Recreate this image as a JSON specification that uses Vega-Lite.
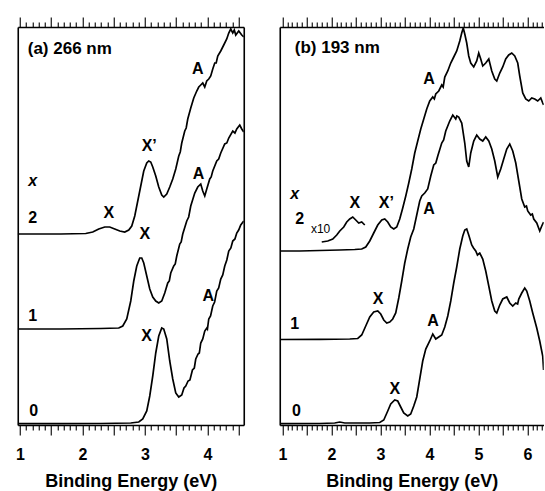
{
"$schema": "https://vega.github.io/schema/vega-lite/v6.json",
"padding": {"left": 14.75, "top": 16, "right": 0, "bottom": 0},
"spacing": 34,
"config": {
  "font": "Liberation Sans",
  "view": {"stroke": null},
  "axis": {"domainColor": "black", "tickColor": "black", "labelColor": "black", "titleColor": "black",
    "labelFont": "Liberation Sans", "titleFont": "Liberation Sans", "labelFontSize": 16, "labelFontWeight": "bold",
    "titleFontSize": 18, "titleFontWeight": "bold", "grid": false, "domainWidth": 1.6, "tickWidth": 1.1,
    "labelOverlap": false, "labelFlush": false}
},
"datasets": {
  "curvesA": [
    {"E":0.965,"I":1.3,"s":"0"},{"E":1.653,"I":1.4,"s":"0"},{"E":2.293,"I":1.5,"s":"0"},{"E":2.773,"I":2,"s":"0"},{"E":2.901,"I":3,"s":"0"},{"E":2.965,"I":6,"s":"0"},{"E":3.029,"I":14,"s":"0"},{"E":3.077,"I":29,"s":"0"},{"E":3.125,"I":49,"s":"0"},{"E":3.173,"I":72,"s":"0"},{"E":3.221,"I":89,"s":"0"},{"E":3.269,"I":97,"s":"0"},{"E":3.301,"I":96,"s":"0"},{"E":3.349,"I":86,"s":"0"},{"E":3.397,"I":64,"s":"0"},{"E":3.445,"I":46,"s":"0"},{"E":3.493,"I":32,"s":"0"},{"E":3.541,"I":28,"s":"0"},{"E":3.589,"I":30,"s":"0"},{"E":3.625,"I":37,"s":"0"},{"E":3.653,"I":39,"s":"0"},{"E":3.69,"I":44,"s":"0"},{"E":3.72,"I":45,"s":"0"},{"E":3.76,"I":55,"s":"0"},{"E":3.79,"I":57,"s":"0"},{"E":3.813,"I":66,"s":"0"},{"E":3.85,"I":71,"s":"0"},{"E":3.87,"I":72,"s":"0"},{"E":3.893,"I":82,"s":"0"},{"E":3.925,"I":86,"s":"0"},{"E":3.957,"I":94,"s":"0"},{"E":3.99,"I":97,"s":"0"},{"E":4.0,"I":96,"s":"0"},{"E":4.021,"I":106,"s":"0"},{"E":4.05,"I":109,"s":"0"},{"E":4.085,"I":119,"s":"0"},{"E":4.115,"I":123,"s":"0"},{"E":4.149,"I":134,"s":"0"},{"E":4.18,"I":137,"s":"0"},{"E":4.213,"I":146,"s":"0"},{"E":4.245,"I":150,"s":"0"},{"E":4.277,"I":159,"s":"0"},{"E":4.31,"I":165,"s":"0"},{"E":4.341,"I":174,"s":"0"},{"E":4.375,"I":177,"s":"0"},{"E":4.405,"I":184,"s":"0"},{"E":4.44,"I":186,"s":"0"},{"E":4.469,"I":192,"s":"0"},{"E":4.5,"I":195,"s":"0"},{"E":4.533,"I":200,"s":"0"},{"E":4.581,"I":204,"s":"0"},
    {"E":0.965,"I":96,"s":"1"},{"E":1.653,"I":96,"s":"1"},{"E":2.293,"I":96.5,"s":"1"},{"E":2.581,"I":97,"s":"1"},{"E":2.645,"I":99,"s":"1"},{"E":2.709,"I":106,"s":"1"},{"E":2.773,"I":124,"s":"1"},{"E":2.821,"I":144,"s":"1"},{"E":2.869,"I":159,"s":"1"},{"E":2.917,"I":167,"s":"1"},{"E":2.949,"I":167,"s":"1"},{"E":2.981,"I":162,"s":"1"},{"E":3.029,"I":149,"s":"1"},{"E":3.077,"I":136,"s":"1"},{"E":3.125,"I":128,"s":"1"},{"E":3.173,"I":124,"s":"1"},{"E":3.221,"I":122,"s":"1"},{"E":3.269,"I":124,"s":"1"},{"E":3.317,"I":132,"s":"1"},{"E":3.365,"I":142,"s":"1"},{"E":3.39,"I":144,"s":"1"},{"E":3.413,"I":152,"s":"1"},{"E":3.461,"I":159,"s":"1"},{"E":3.485,"I":161,"s":"1"},{"E":3.509,"I":169,"s":"1"},{"E":3.557,"I":181,"s":"1"},{"E":3.58,"I":183,"s":"1"},{"E":3.605,"I":191,"s":"1"},{"E":3.669,"I":204,"s":"1"},{"E":3.7,"I":208,"s":"1"},{"E":3.733,"I":219,"s":"1"},{"E":3.797,"I":232,"s":"1"},{"E":3.845,"I":238,"s":"1"},{"E":3.893,"I":241,"s":"1"},{"E":3.925,"I":234,"s":"1"},{"E":3.957,"I":229,"s":"1"},{"E":3.989,"I":236,"s":"1"},{"E":4.037,"I":246,"s":"1"},{"E":4.06,"I":248,"s":"1"},{"E":4.085,"I":254,"s":"1"},{"E":4.149,"I":264,"s":"1"},{"E":4.18,"I":266,"s":"1"},{"E":4.213,"I":272,"s":"1"},{"E":4.277,"I":281,"s":"1"},{"E":4.31,"I":282,"s":"1"},{"E":4.341,"I":287,"s":"1"},{"E":4.405,"I":294,"s":"1"},{"E":4.44,"I":292,"s":"1"},{"E":4.469,"I":296,"s":"1"},{"E":4.517,"I":300,"s":"1"},{"E":4.549,"I":296,"s":"1"},{"E":4.581,"I":293,"s":"1"},
    {"E":0.965,"I":191,"s":"2"},{"E":1.653,"I":191,"s":"2"},{"E":2.053,"I":191.5,"s":"2"},{"E":2.165,"I":193,"s":"2"},{"E":2.261,"I":196,"s":"2"},{"E":2.357,"I":198,"s":"2"},{"E":2.437,"I":198,"s":"2"},{"E":2.517,"I":196,"s":"2"},{"E":2.597,"I":194,"s":"2"},{"E":2.677,"I":193,"s":"2"},{"E":2.741,"I":195,"s":"2"},{"E":2.789,"I":199,"s":"2"},{"E":2.837,"I":209,"s":"2"},{"E":2.885,"I":224,"s":"2"},{"E":2.933,"I":239,"s":"2"},{"E":2.981,"I":254,"s":"2"},{"E":3.029,"I":262,"s":"2"},{"E":3.061,"I":264,"s":"2"},{"E":3.093,"I":263,"s":"2"},{"E":3.125,"I":258,"s":"2"},{"E":3.173,"I":249,"s":"2"},{"E":3.221,"I":238,"s":"2"},{"E":3.269,"I":230,"s":"2"},{"E":3.301,"I":228,"s":"2"},{"E":3.349,"I":231,"s":"2"},{"E":3.397,"I":238,"s":"2"},{"E":3.445,"I":246,"s":"2"},{"E":3.493,"I":256,"s":"2"},{"E":3.541,"I":269,"s":"2"},{"E":3.565,"I":273,"s":"2"},{"E":3.589,"I":282,"s":"2"},{"E":3.637,"I":294,"s":"2"},{"E":3.66,"I":297,"s":"2"},{"E":3.685,"I":306,"s":"2"},{"E":3.733,"I":317,"s":"2"},{"E":3.781,"I":327,"s":"2"},{"E":3.829,"I":334,"s":"2"},{"E":3.861,"I":338,"s":"2"},{"E":3.893,"I":340,"s":"2"},{"E":3.925,"I":342,"s":"2"},{"E":3.957,"I":338,"s":"2"},{"E":3.989,"I":344,"s":"2"},{"E":4.021,"I":346,"s":"2"},{"E":4.053,"I":349,"s":"2"},{"E":4.085,"I":356,"s":"2"},{"E":4.117,"I":362,"s":"2"},{"E":4.14,"I":362,"s":"2"},{"E":4.165,"I":369,"s":"2"},{"E":4.213,"I":374,"s":"2"},{"E":4.261,"I":380,"s":"2"},{"E":4.309,"I":386,"s":"2"},{"E":4.341,"I":392,"s":"2"},{"E":4.373,"I":396,"s":"2"},{"E":4.405,"I":392,"s":"2"},{"E":4.43,"I":395,"s":"2"},{"E":4.453,"I":390,"s":"2"},{"E":4.501,"I":394,"s":"2"},{"E":4.549,"I":390,"s":"2"},{"E":4.581,"I":388,"s":"2"}
  ],
  "peaksA": [
    {"E":2.421,"I":212,"label":"X"},{"E":3.069,"I":279,"label":"X’"},{"E":3.845,"I":356,"label":"A"},
    {"E":2.997,"I":191,"label":"X"},{"E":3.856,"I":251,"label":"A"},
    {"E":3.026,"I":89,"label":"X"},{"E":4.013,"I":129,"label":"A"}
  ],
  "seriesA": [
    {"E":1.205,"I":207,"label":"2"},{"E":1.205,"I":109,"label":"1"},{"E":1.221,"I":14,"label":"0"}
  ],
  "titleA": [{"E":1.125,"I":376,"label":"(a) 266 nm"}],
  "varA": [{"E":1.205,"I":244,"label":"x"}],
  "curvesB": [
    {"E":0.965,"I":1.3,"s":"0"},{"E":1.761,"I":1.5,"s":"0"},{"E":2.067,"I":2,"s":"0"},{"E":2.17,"I":3,"s":"0"},{"E":2.272,"I":2,"s":"0"},{"E":2.782,"I":2,"s":"0"},{"E":2.986,"I":2.5,"s":"0"},{"E":3.068,"I":5,"s":"0"},{"E":3.149,"I":14,"s":"0"},{"E":3.21,"I":21,"s":"0"},{"E":3.292,"I":25,"s":"0"},{"E":3.353,"I":24,"s":"0"},{"E":3.414,"I":18,"s":"0"},{"E":3.475,"I":12,"s":"0"},{"E":3.557,"I":9,"s":"0"},{"E":3.618,"I":11,"s":"0"},{"E":3.68,"I":19,"s":"0"},{"E":3.741,"I":28,"s":"0"},{"E":3.802,"I":46,"s":"0"},{"E":3.863,"I":64,"s":"0"},{"E":3.925,"I":76,"s":"0"},{"E":4.006,"I":84,"s":"0"},{"E":4.068,"I":91,"s":"0"},{"E":4.129,"I":86,"s":"0"},{"E":4.19,"I":88,"s":"0"},{"E":4.251,"I":90,"s":"0"},{"E":4.313,"I":98,"s":"0"},{"E":4.374,"I":109,"s":"0"},{"E":4.435,"I":124,"s":"0"},{"E":4.496,"I":142,"s":"0"},{"E":4.557,"I":158,"s":"0"},{"E":4.619,"I":176,"s":"0"},{"E":4.68,"I":189,"s":"0"},{"E":4.721,"I":195,"s":"0"},{"E":4.761,"I":196,"s":"0"},{"E":4.802,"I":190,"s":"0"},{"E":4.863,"I":180,"s":"0"},{"E":4.9,"I":177,"s":"0"},{"E":4.945,"I":174,"s":"0"},{"E":4.98,"I":170,"s":"0"},{"E":5.027,"I":172,"s":"0"},{"E":5.088,"I":166,"s":"0"},{"E":5.149,"I":154,"s":"0"},{"E":5.211,"I":139,"s":"0"},{"E":5.272,"I":124,"s":"0"},{"E":5.333,"I":114,"s":"0"},{"E":5.374,"I":112,"s":"0"},{"E":5.435,"I":120,"s":"0"},{"E":5.496,"I":126,"s":"0"},{"E":5.578,"I":128,"s":"0"},{"E":5.639,"I":122,"s":"0"},{"E":5.7,"I":119,"s":"0"},{"E":5.762,"I":122,"s":"0"},{"E":5.8,"I":121,"s":"0"},{"E":5.823,"I":126,"s":"0"},{"E":5.884,"I":132,"s":"0"},{"E":5.945,"I":137,"s":"0"},{"E":5.986,"I":134,"s":"0"},{"E":6.047,"I":124,"s":"0"},{"E":6.108,"I":112,"s":"0"},{"E":6.19,"I":97,"s":"0"},{"E":6.251,"I":84,"s":"0"},{"E":6.312,"I":69,"s":"0"},{"E":6.33,"I":55,"s":"0"},
    {"E":0.965,"I":85.5,"s":"1"},{"E":1.761,"I":85.7,"s":"1"},{"E":2.374,"I":86,"s":"1"},{"E":2.537,"I":86.5,"s":"1"},{"E":2.618,"I":90,"s":"1"},{"E":2.7,"I":99,"s":"1"},{"E":2.782,"I":108,"s":"1"},{"E":2.863,"I":113,"s":"1"},{"E":2.945,"I":114,"s":"1"},{"E":3.006,"I":111,"s":"1"},{"E":3.068,"I":105,"s":"1"},{"E":3.129,"I":102,"s":"1"},{"E":3.19,"I":103,"s":"1"},{"E":3.251,"I":106,"s":"1"},{"E":3.312,"I":112,"s":"1"},{"E":3.374,"I":127,"s":"1"},{"E":3.435,"I":144,"s":"1"},{"E":3.496,"I":162,"s":"1"},{"E":3.557,"I":176,"s":"1"},{"E":3.618,"I":188,"s":"1"},{"E":3.68,"I":196,"s":"1"},{"E":3.741,"I":210,"s":"1"},{"E":3.802,"I":224,"s":"1"},{"E":3.843,"I":229,"s":"1"},{"E":3.904,"I":232,"s":"1"},{"E":3.965,"I":236,"s":"1"},{"E":4.027,"I":249,"s":"1"},{"E":4.088,"I":260,"s":"1"},{"E":4.13,"I":262,"s":"1"},{"E":4.17,"I":269,"s":"1"},{"E":4.251,"I":282,"s":"1"},{"E":4.29,"I":285,"s":"1"},{"E":4.333,"I":294,"s":"1"},{"E":4.414,"I":304,"s":"1"},{"E":4.476,"I":310,"s":"1"},{"E":4.537,"I":306,"s":"1"},{"E":4.56,"I":309,"s":"1"},{"E":4.598,"I":308,"s":"1"},{"E":4.659,"I":302,"s":"1"},{"E":4.721,"I":282,"s":"1"},{"E":4.761,"I":264,"s":"1"},{"E":4.802,"I":258,"s":"1"},{"E":4.843,"I":272,"s":"1"},{"E":4.904,"I":284,"s":"1"},{"E":4.965,"I":290,"s":"1"},{"E":5.027,"I":286,"s":"1"},{"E":5.088,"I":284,"s":"1"},{"E":5.149,"I":288,"s":"1"},{"E":5.211,"I":284,"s":"1"},{"E":5.272,"I":276,"s":"1"},{"E":5.333,"I":264,"s":"1"},{"E":5.394,"I":248,"s":"1"},{"E":5.455,"I":256,"s":"1"},{"E":5.516,"I":266,"s":"1"},{"E":5.578,"I":276,"s":"1"},{"E":5.639,"I":281,"s":"1"},{"E":5.7,"I":274,"s":"1"},{"E":5.762,"I":262,"s":"1"},{"E":5.823,"I":244,"s":"1"},{"E":5.884,"I":226,"s":"1"},{"E":5.945,"I":218,"s":"1"},{"E":5.98,"I":219,"s":"1"},{"E":6.006,"I":214,"s":"1"},{"E":6.067,"I":210,"s":"1"},{"E":6.1,"I":211,"s":"1"},{"E":6.129,"I":206,"s":"1"},{"E":6.19,"I":202,"s":"1"},{"E":6.251,"I":194,"s":"1"},{"E":6.292,"I":199,"s":"1"},{"E":6.33,"I":203,"s":"1"},
    {"E":0.965,"I":174,"s":"2"},{"E":1.353,"I":174,"s":"2"},{"E":1.761,"I":174.5,"s":"2"},{"E":2.17,"I":175,"s":"2"},{"E":2.476,"I":175.5,"s":"2"},{"E":2.618,"I":176,"s":"2"},{"E":2.7,"I":178,"s":"2"},{"E":2.782,"I":184,"s":"2"},{"E":2.863,"I":192,"s":"2"},{"E":2.945,"I":200,"s":"2"},{"E":3.027,"I":205,"s":"2"},{"E":3.088,"I":206,"s":"2"},{"E":3.149,"I":203,"s":"2"},{"E":3.21,"I":198,"s":"2"},{"E":3.272,"I":196,"s":"2"},{"E":3.333,"I":198,"s":"2"},{"E":3.394,"I":206,"s":"2"},{"E":3.455,"I":217,"s":"2"},{"E":3.517,"I":229,"s":"2"},{"E":3.578,"I":242,"s":"2"},{"E":3.639,"I":256,"s":"2"},{"E":3.7,"I":272,"s":"2"},{"E":3.761,"I":284,"s":"2"},{"E":3.823,"I":296,"s":"2"},{"E":3.884,"I":306,"s":"2"},{"E":3.945,"I":316,"s":"2"},{"E":4.006,"I":324,"s":"2"},{"E":4.068,"I":328,"s":"2"},{"E":4.1,"I":326,"s":"2"},{"E":4.129,"I":331,"s":"2"},{"E":4.19,"I":334,"s":"2"},{"E":4.251,"I":340,"s":"2"},{"E":4.28,"I":338,"s":"2"},{"E":4.313,"I":348,"s":"2"},{"E":4.374,"I":354,"s":"2"},{"E":4.435,"I":362,"s":"2"},{"E":4.496,"I":368,"s":"2"},{"E":4.557,"I":374,"s":"2"},{"E":4.619,"I":384,"s":"2"},{"E":4.659,"I":392,"s":"2"},{"E":4.69,"I":397,"s":"2"},{"E":4.721,"I":391,"s":"2"},{"E":4.761,"I":382,"s":"2"},{"E":4.802,"I":369,"s":"2"},{"E":4.843,"I":362,"s":"2"},{"E":4.904,"I":358,"s":"2"},{"E":4.965,"I":364,"s":"2"},{"E":5.006,"I":372,"s":"2"},{"E":5.047,"I":366,"s":"2"},{"E":5.088,"I":359,"s":"2"},{"E":5.149,"I":362,"s":"2"},{"E":5.211,"I":366,"s":"2"},{"E":5.272,"I":354,"s":"2"},{"E":5.333,"I":346,"s":"2"},{"E":5.374,"I":344,"s":"2"},{"E":5.435,"I":352,"s":"2"},{"E":5.496,"I":358,"s":"2"},{"E":5.557,"I":366,"s":"2"},{"E":5.618,"I":370,"s":"2"},{"E":5.68,"I":372,"s":"2"},{"E":5.741,"I":369,"s":"2"},{"E":5.802,"I":362,"s":"2"},{"E":5.843,"I":349,"s":"2"},{"E":5.904,"I":332,"s":"2"},{"E":5.965,"I":326,"s":"2"},{"E":6.027,"I":324,"s":"2"},{"E":6.088,"I":327,"s":"2"},{"E":6.149,"I":326,"s":"2"},{"E":6.21,"I":324,"s":"2"},{"E":6.272,"I":327,"s":"2"},{"E":6.312,"I":322,"s":"2"},{"E":6.33,"I":320,"s":"2"},
    {"E":1.802,"I":183,"s":"2x10"},{"E":1.925,"I":184,"s":"2x10"},{"E":2.027,"I":186,"s":"2x10"},{"E":2.108,"I":190,"s":"2x10"},{"E":2.17,"I":194,"s":"2x10"},{"E":2.251,"I":198,"s":"2x10"},{"E":2.312,"I":203,"s":"2x10"},{"E":2.374,"I":206,"s":"2x10"},{"E":2.435,"I":208,"s":"2x10"},{"E":2.496,"I":205,"s":"2x10"},{"E":2.557,"I":202,"s":"2x10"},{"E":2.618,"I":203,"s":"2x10"},{"E":2.68,"I":200,"s":"2x10"}
  ],
  "peaksB": [
    {"E":2.476,"I":222,"label":"X"},{"E":3.122,"I":222,"label":"X’"},{"E":3.992,"I":346,"label":"A"},
    {"E":2.951,"I":126,"label":"X"},{"E":3.992,"I":216,"label":"A"},
    {"E":3.292,"I":36,"label":"X"},{"E":4.073,"I":104,"label":"A"}
  ],
  "seriesB": [
    {"E":1.353,"I":206,"label":"2"},{"E":1.251,"I":101,"label":"1"},{"E":1.286,"I":14,"label":"0"}
  ],
  "titleB": [{"E":1.251,"I":377,"label":"(b) 193 nm"}],
  "varB": [{"E":1.251,"I":231,"label":"x"}],
  "scaleB": [{"E":1.778,"I":196,"label":"x10"}]
},
"hconcat": [
  {
    "width": 226, "height": 398,
    "resolve": {"axis": {"x": "independent", "y": "independent"}},
    "layer": [
      {"data": {"name": "curvesA"},
       "mark": {"type": "line", "color": "black", "strokeWidth": 1.7, "clip": true},
       "encoding": {
         "x": {"field": "E", "type": "quantitative", "scale": {"domain": [0.965, 4.581], "nice": false, "zero": false},
               "axis": {"orient": "bottom", "values": [1.1,1.2,1.3,1.4,1.6,1.7,1.8,1.9,2.1,2.2,2.3,2.4,2.6,2.7,2.8,2.9,3.1,3.2,3.3,3.4,3.6,3.7,3.8,3.9,4.1,4.2,4.3,4.4], "tickSize": 5, "labels": false, "title": null, "domain": true}},
         "y": {"field": "I", "type": "quantitative", "scale": {"domain": [0, 398], "nice": false, "zero": false},
               "axis": {"orient": "left", "domain": true, "ticks": false, "labels": false, "title": null}},
         "detail": {"field": "s"}
       }},
      {"data": {"name": "peaksA"},
       "mark": {"type": "text", "fontSize": 16, "fontWeight": "bold", "align": "center", "baseline": "middle", "color": "black"},
       "encoding": {
         "x": {"field": "E", "type": "quantitative", "scale": {"domain": [0.965, 4.581], "nice": false, "zero": false},
               "axis": {"orient": "bottom", "values": [1,1.5,2,2.5,3,3.5,4,4.5], "tickSize": 10, "labelExpr": "datum.value % 1 === 0 ? format(datum.value, 'd') : ''", "labelPadding": 11.5, "title": "Binding Energy (eV)", "titlePadding": 10, "domain": false}},
         "y": {"field": "I", "type": "quantitative", "scale": {"domain": [0, 398], "nice": false, "zero": false},
               "axis": {"orient": "right", "domain": true, "ticks": false, "labels": false, "title": null}},
         "text": {"field": "label"}
       }},
      {"data": {"name": "seriesA"},
       "mark": {"type": "text", "fontSize": 16, "fontWeight": "bold", "align": "center", "baseline": "middle", "color": "black"},
       "encoding": {
         "x": {"field": "E", "type": "quantitative", "scale": {"domain": [0.965, 4.581], "nice": false, "zero": false},
               "axis": {"orient": "top", "values": [1.1,1.2,1.3,1.4,1.6,1.7,1.8,1.9,2.1,2.2,2.3,2.4,2.6,2.7,2.8,2.9,3.1,3.2,3.3,3.4,3.6,3.7,3.8,3.9,4.1,4.2,4.3,4.4], "tickSize": 5, "labels": false, "title": null, "domain": true}},
         "y": {"field": "I", "type": "quantitative", "scale": {"domain": [0, 398], "nice": false, "zero": false}, "axis": null},
         "text": {"field": "label"}
       }},
      {"data": {"name": "titleA"},
       "mark": {"type": "text", "fontSize": 17, "fontWeight": "bold", "align": "left", "baseline": "middle", "color": "black"},
       "encoding": {
         "x": {"field": "E", "type": "quantitative", "scale": {"domain": [0.965, 4.581], "nice": false, "zero": false},
               "axis": {"orient": "top", "values": [1,1.5,2,2.5,3,3.5,4,4.5], "tickSize": 10, "labels": false, "title": null, "domain": false}},
         "y": {"field": "I", "type": "quantitative", "scale": {"domain": [0, 398], "nice": false, "zero": false}, "axis": null},
         "text": {"field": "label"}
       }},
      {"data": {"name": "varA"},
       "mark": {"type": "text", "fontSize": 16, "fontWeight": "bold", "fontStyle": "italic", "align": "center", "baseline": "middle", "color": "black"},
       "encoding": {
         "x": {"field": "E", "type": "quantitative", "scale": {"domain": [0.965, 4.581], "nice": false, "zero": false}, "axis": null},
         "y": {"field": "I", "type": "quantitative", "scale": {"domain": [0, 398], "nice": false, "zero": false}, "axis": null},
         "text": {"field": "label"}
       }}
    ]
  },
  {
    "width": 264, "height": 398,
    "resolve": {"axis": {"x": "independent", "y": "independent"}},
    "layer": [
      {"data": {"name": "curvesB"},
       "mark": {"type": "line", "color": "black", "strokeWidth": 1.7, "clip": true},
       "encoding": {
         "x": {"field": "E", "type": "quantitative", "scale": {"domain": [0.945, 6.333], "nice": false, "zero": false},
               "axis": {"orient": "bottom", "values": [1.1,1.2,1.3,1.4,1.6,1.7,1.8,1.9,2.1,2.2,2.3,2.4,2.6,2.7,2.8,2.9,3.1,3.2,3.3,3.4,3.6,3.7,3.8,3.9,4.1,4.2,4.3,4.4,4.6,4.7,4.8,4.9,5.1,5.2,5.3,5.4,5.6,5.7,5.8,5.9,6.1,6.2,6.3], "tickSize": 5, "labels": false, "title": null, "domain": true}},
         "y": {"field": "I", "type": "quantitative", "scale": {"domain": [0, 398], "nice": false, "zero": false},
               "axis": {"orient": "left", "domain": true, "ticks": false, "labels": false, "title": null}},
         "detail": {"field": "s"}
       }},
      {"data": {"name": "peaksB"},
       "mark": {"type": "text", "fontSize": 16, "fontWeight": "bold", "align": "center", "baseline": "middle", "color": "black"},
       "encoding": {
         "x": {"field": "E", "type": "quantitative", "scale": {"domain": [0.945, 6.333], "nice": false, "zero": false},
               "axis": {"orient": "bottom", "values": [1,1.5,2,2.5,3,3.5,4,4.5,5,5.5,6], "tickSize": 10, "labelExpr": "datum.value % 1 === 0 ? format(datum.value, 'd') : ''", "labelPadding": 11.5, "title": "Binding Energy (eV)", "titlePadding": 10, "domain": false}},
         "y": {"field": "I", "type": "quantitative", "scale": {"domain": [0, 398], "nice": false, "zero": false}, "axis": null},
         "text": {"field": "label"}
       }},
      {"data": {"name": "seriesB"},
       "mark": {"type": "text", "fontSize": 16, "fontWeight": "bold", "align": "center", "baseline": "middle", "color": "black"},
       "encoding": {
         "x": {"field": "E", "type": "quantitative", "scale": {"domain": [0.945, 6.333], "nice": false, "zero": false},
               "axis": {"orient": "top", "values": [1.1,1.2,1.3,1.4,1.6,1.7,1.8,1.9,2.1,2.2,2.3,2.4,2.6,2.7,2.8,2.9,3.1,3.2,3.3,3.4,3.6,3.7,3.8,3.9,4.1,4.2,4.3,4.4,4.6,4.7,4.8,4.9,5.1,5.2,5.3,5.4,5.6,5.7,5.8,5.9,6.1,6.2,6.3], "tickSize": 5, "labels": false, "title": null, "domain": true}},
         "y": {"field": "I", "type": "quantitative", "scale": {"domain": [0, 398], "nice": false, "zero": false}, "axis": null},
         "text": {"field": "label"}
       }},
      {"data": {"name": "titleB"},
       "mark": {"type": "text", "fontSize": 17, "fontWeight": "bold", "align": "left", "baseline": "middle", "color": "black"},
       "encoding": {
         "x": {"field": "E", "type": "quantitative", "scale": {"domain": [0.945, 6.333], "nice": false, "zero": false},
               "axis": {"orient": "top", "values": [1,1.5,2,2.5,3,3.5,4,4.5,5,5.5,6], "tickSize": 10, "labels": false, "title": null, "domain": false}},
         "y": {"field": "I", "type": "quantitative", "scale": {"domain": [0, 398], "nice": false, "zero": false}, "axis": null},
         "text": {"field": "label"}
       }},
      {"data": {"name": "varB"},
       "mark": {"type": "text", "fontSize": 16, "fontWeight": "bold", "fontStyle": "italic", "align": "center", "baseline": "middle", "color": "black"},
       "encoding": {
         "x": {"field": "E", "type": "quantitative", "scale": {"domain": [0.945, 6.333], "nice": false, "zero": false}, "axis": null},
         "y": {"field": "I", "type": "quantitative", "scale": {"domain": [0, 398], "nice": false, "zero": false}, "axis": null},
         "text": {"field": "label"}
       }},
      {"data": {"name": "scaleB"},
       "mark": {"type": "text", "fontSize": 12, "align": "center", "baseline": "middle", "color": "black"},
       "encoding": {
         "x": {"field": "E", "type": "quantitative", "scale": {"domain": [0.945, 6.333], "nice": false, "zero": false}, "axis": null},
         "y": {"field": "I", "type": "quantitative", "scale": {"domain": [0, 398], "nice": false, "zero": false}, "axis": null},
         "text": {"field": "label"}
       }}
    ]
  }
]
}
